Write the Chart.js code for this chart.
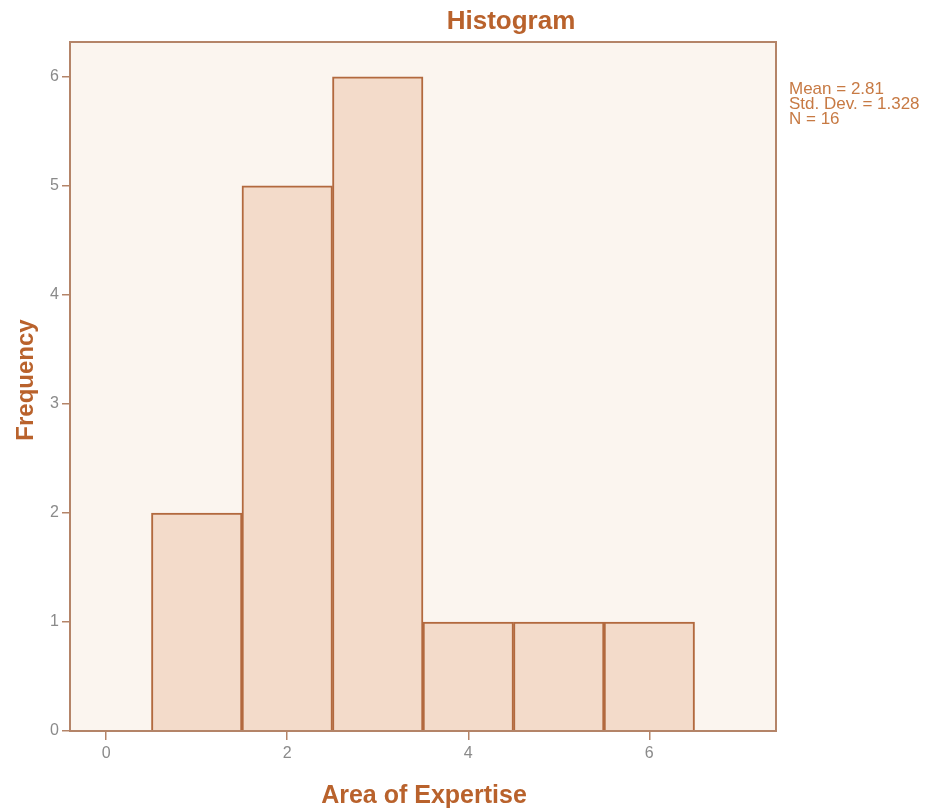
<!DOCTYPE html>
<html><head><meta charset="utf-8">
<script src="https://cdn.jsdelivr.net/npm/chart.js@4"></script>
<style>html,body{margin:0;padding:0;background:#fff;}#wrap{width:939px;height:812px;position:relative;}</style>
</head><body><div id="wrap"><canvas id="c" width="939" height="812"></canvas></div>
<script>
const binCenters = [1, 2, 3, 4, 5, 6];
const frequencies = [2, 5, 6, 1, 1, 1];
const xTickValues = [0, 2, 4, 6];
const yTickValues = [0, 1, 2, 3, 4, 5, 6];
const statsLines = ['Mean = 2.81', 'Std. Dev. = 1.328', 'N = 16'];
const chartTitle = 'Histogram';
const xTitle = 'Area of Expertise';
const yTitle = 'Frequency';

const FONT = '"Liberation Sans", Arial, sans-serif';
const orange = '#b9622c';
const statsColor = '#c77a44';
const frameColor = '#b48468';
const barBorder = '#b2693e';
const barFill = '#f3dbca';
const plotBg = '#fbf5ef';
const tickColor = '#8a8a8a';

const deco = {
  id: 'deco',
  beforeDraw(chart) {
    const {ctx, chartArea: a} = chart;
    ctx.save();
    ctx.fillStyle = plotBg;
    ctx.fillRect(a.left, a.top, a.right - a.left, a.bottom - a.top);
    ctx.restore();
  },
  afterDraw(chart) {
    const {ctx, chartArea: a} = chart;
    ctx.save();
    ctx.strokeStyle = frameColor;
    ctx.lineWidth = 2;
    ctx.strokeRect(a.left, a.top, a.right - a.left, a.bottom - a.top);
    ctx.fillStyle = orange;
    ctx.textAlign = 'center';
    ctx.textBaseline = 'alphabetic';
    ctx.font = 'bold 26px ' + FONT;
    ctx.fillText(chartTitle, 511, 29);
    ctx.font = 'bold 25px ' + FONT;
    ctx.fillText(xTitle, (a.left + a.right) / 2 + 1, 803);
    ctx.save();
    ctx.font = 'bold 24px ' + FONT;
    ctx.translate(33, 380);
    ctx.rotate(-Math.PI / 2);
    ctx.fillText(yTitle, 0, 0);
    ctx.restore();
    ctx.font = '17px ' + FONT;
    ctx.textAlign = 'left';
    ctx.fillStyle = statsColor;
    statsLines.forEach((s, i) => ctx.fillText(s, 789, 94 + i * 15));
    ctx.restore();
  }
};

new Chart(document.getElementById('c'), {
  type: 'bar',
  data: {
    datasets: [{
      data: binCenters.map((x, i) => ({x: x, y: frequencies[i]})),
      backgroundColor: barFill,
      borderColor: barBorder,
      borderWidth: 2,
      barPercentage: 1,
      categoryPercentage: 1,
      grouped: false
    }]
  },
  options: {
    responsive: false,
    animation: false,
    layout: {padding: {top: 42, right: 163, left: 0, bottom: 0}},
    plugins: {legend: {display: false}, tooltip: {enabled: false}, title: {display: false}},
    scales: {
      x: {
        type: 'linear', min: -0.4, max: 7.4, offset: false,
        afterBuildTicks: s => { s.ticks = xTickValues.map(v => ({value: v})); },
        afterFit: s => { s.height = 81; },
        grid: {offset: false, drawOnChartArea: false, drawTicks: true, tickLength: 9, color: frameColor, lineWidth: 1.5},
        border: {display: false},
        ticks: {color: tickColor, font: {size: 16, family: FONT}, padding: 4, maxRotation: 0}
      },
      y: {
        min: 0, max: 6.32,
        afterBuildTicks: s => { s.ticks = yTickValues.map(v => ({value: v})); },
        afterFit: s => { s.width = 70; },
        grid: {drawOnChartArea: false, drawTicks: true, tickLength: 8, color: frameColor, lineWidth: 1.5},
        border: {display: false},
        ticks: {color: tickColor, font: {size: 16, family: FONT}, padding: 3}
      }
    }
  },
  plugins: [deco]
});
</script></body></html>
